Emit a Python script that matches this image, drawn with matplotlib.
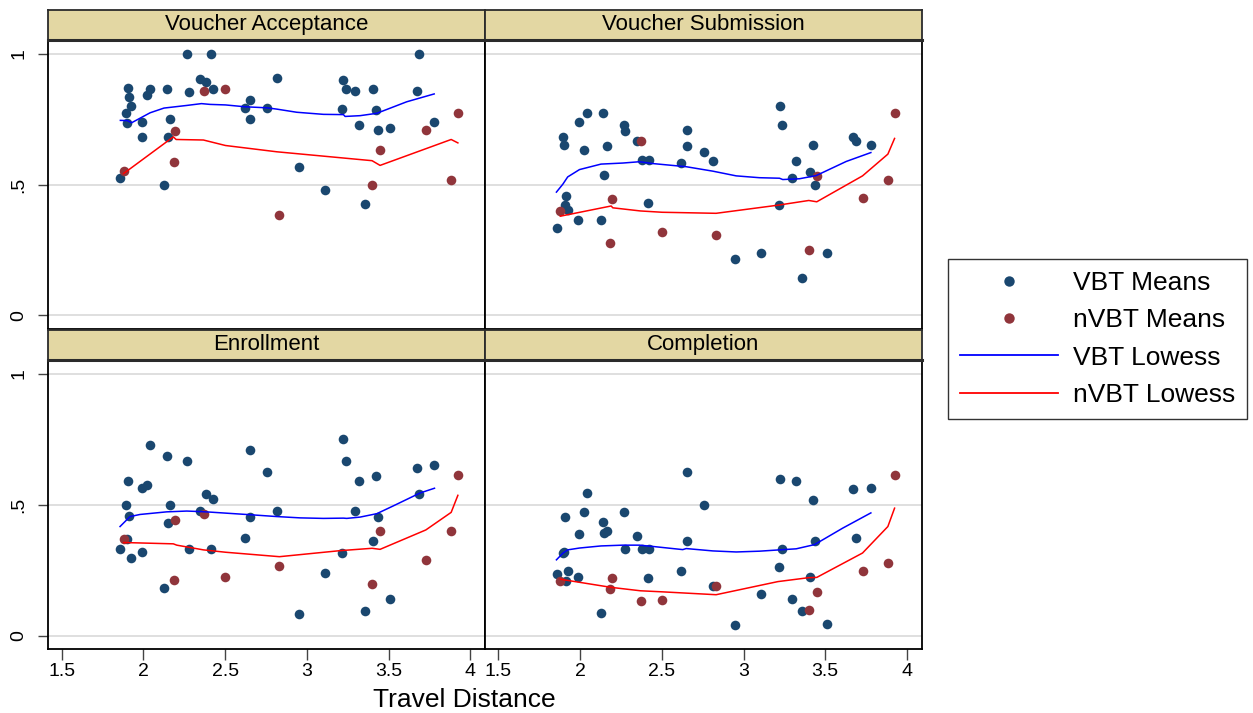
import matplotlib
matplotlib.use("Agg")
import matplotlib.pyplot as plt
from matplotlib.lines import Line2D

plt.rcParams['font.family'] = ['Liberation Sans', 'DejaVu Sans']

# ---------------- data ----------------
panel_titles = ["Voucher Acceptance", "Voucher Submission", "Enrollment", "Completion"]

x_vbt = [1.857, 1.896, 1.902, 1.906, 1.912, 1.926, 1.990, 1.992, 2.024, 2.041,
         2.126, 2.143, 2.149, 2.165, 2.267, 2.277, 2.349, 2.381, 2.416, 2.424,
         2.620, 2.651, 2.655, 2.755, 2.816, 2.950, 3.108, 3.214, 3.222, 3.238,
         3.297, 3.320, 3.356, 3.405, 3.426, 3.436, 3.511, 3.671, 3.685, 3.781]
x_nvbt = [1.879, 2.185, 2.196, 2.371, 2.502, 2.832, 3.399, 3.448, 3.728, 3.883, 3.924]

acc_vbt = [0.523, 0.772, 0.736, 0.869, 0.833, 0.800, 0.681, 0.739, 0.841, 0.864,
           0.500, 0.864, 0.681, 0.750, 1.000, 0.852, 0.904, 0.890, 1.000, 0.864,
           0.791, 0.750, 0.823, 0.791, 0.908, 0.565, 0.478, 0.790, 0.899, 0.864,
           0.857, 0.727, 0.427, 0.864, 0.784, 0.708, 0.714, 0.857, 1.000, 0.739]
acc_nvbt = [0.550, 0.585, 0.703, 0.857, 0.864, 0.384, 0.500, 0.633, 0.709, 0.517, 0.772]

sub_vbt = [0.333, 0.681, 0.652, 0.422, 0.458, 0.402, 0.364, 0.739, 0.630, 0.772,
           0.364, 0.772, 0.536, 0.649, 0.726, 0.703, 0.666, 0.592, 0.429, 0.592,
           0.583, 0.708, 0.647, 0.624, 0.589, 0.217, 0.240, 0.421, 0.798, 0.726,
           0.523, 0.589, 0.142, 0.547, 0.652, 0.500, 0.237, 0.680, 0.666, 0.652]
sub_nvbt = [0.399, 0.276, 0.444, 0.666, 0.318, 0.306, 0.249, 0.533, 0.450, 0.517, 0.772]

enr_vbt = [0.333, 0.500, 0.370, 0.589, 0.458, 0.298, 0.565, 0.318, 0.577, 0.726,
           0.181, 0.686, 0.429, 0.500, 0.666, 0.332, 0.477, 0.541, 0.333, 0.523,
           0.374, 0.708, 0.454, 0.624, 0.476, 0.085, 0.239, 0.315, 0.749, 0.666,
           0.476, 0.589, 0.094, 0.362, 0.608, 0.454, 0.142, 0.639, 0.541, 0.652]
enr_nvbt = [0.369, 0.213, 0.443, 0.466, 0.226, 0.268, 0.198, 0.399, 0.291, 0.399, 0.615]

com_vbt = [0.237, 0.316, 0.318, 0.454, 0.208, 0.249, 0.226, 0.390, 0.473, 0.545,
           0.089, 0.436, 0.392, 0.399, 0.474, 0.332, 0.380, 0.332, 0.221, 0.332,
           0.249, 0.624, 0.362, 0.499, 0.190, 0.042, 0.159, 0.261, 0.599, 0.332,
           0.142, 0.589, 0.094, 0.224, 0.520, 0.362, 0.047, 0.559, 0.374, 0.564]
com_nvbt = [0.209, 0.177, 0.221, 0.133, 0.136, 0.191, 0.098, 0.166, 0.249, 0.279, 0.615]

# lowess curves
acc_low_vbt_x = [1.859, 1.902, 1.928, 2.041, 2.126, 2.265, 2.355, 2.408, 2.502, 2.620,
                 2.755, 2.816, 2.938, 3.101, 3.224, 3.234, 3.326, 3.428, 3.611, 3.779]
acc_low_vbt_y = [0.745, 0.744, 0.736, 0.774, 0.792, 0.802, 0.809, 0.806, 0.804, 0.797,
                 0.793, 0.788, 0.776, 0.768, 0.767, 0.760, 0.763, 0.772, 0.816, 0.846]
acc_low_nvbt_x = [1.879, 2.183, 2.200, 2.367, 2.502, 2.816, 3.399, 3.448, 3.883, 3.924]
acc_low_nvbt_y = [0.542, 0.682, 0.672, 0.670, 0.649, 0.625, 0.591, 0.573, 0.672, 0.659]

sub_low_vbt_x = [1.855, 1.894, 1.924, 1.996, 2.128, 2.261, 2.363, 2.445, 2.649, 2.812,
                 2.955, 3.097, 3.220, 3.240, 3.342, 3.444, 3.628, 3.779]
sub_low_vbt_y = [0.471, 0.501, 0.529, 0.557, 0.578, 0.582, 0.587, 0.580, 0.568, 0.551,
                 0.533, 0.526, 0.524, 0.519, 0.522, 0.534, 0.588, 0.622]
sub_low_nvbt_x = [1.879, 2.190, 2.200, 2.369, 2.502, 2.832, 3.210, 3.399, 3.448, 3.728, 3.883, 3.924]
sub_low_nvbt_y = [0.379, 0.418, 0.411, 0.399, 0.394, 0.390, 0.421, 0.439, 0.434, 0.533, 0.616, 0.676]

enr_low_vbt_x = [1.857, 1.918, 1.979, 2.143, 2.265, 2.347, 2.408, 2.653, 2.816, 2.959,
                 3.101, 3.224, 3.244, 3.326, 3.428, 3.530, 3.693, 3.781]
enr_low_vbt_y = [0.417, 0.455, 0.463, 0.473, 0.476, 0.474, 0.472, 0.462, 0.455, 0.450,
                 0.448, 0.449, 0.448, 0.453, 0.466, 0.496, 0.545, 0.563]
enr_low_nvbt_x = [1.879, 2.183, 2.204, 2.367, 2.502, 2.832, 3.203, 3.399, 3.448, 3.728, 3.883, 3.924]
enr_low_nvbt_y = [0.356, 0.351, 0.346, 0.328, 0.319, 0.302, 0.325, 0.334, 0.330, 0.404, 0.471, 0.536]

com_low_vbt_x = [1.855, 1.894, 1.924, 1.996, 2.128, 2.261, 2.363, 2.445, 2.628, 2.649,
                 2.812, 2.955, 3.097, 3.220, 3.322, 3.434, 3.607, 3.779]
com_low_vbt_y = [0.290, 0.315, 0.328, 0.335, 0.343, 0.346, 0.346, 0.341, 0.329, 0.333,
                 0.324, 0.320, 0.323, 0.328, 0.332, 0.348, 0.411, 0.469]
com_low_nvbt_x = [1.879, 2.190, 2.369, 2.502, 2.832, 3.210, 3.399, 3.448, 3.728, 3.883, 3.924]
com_low_nvbt_y = [0.216, 0.185, 0.172, 0.168, 0.157, 0.207, 0.222, 0.223, 0.316, 0.417, 0.487]

x_ticks = [1.5, 2, 2.5, 3, 3.5, 4]
x_tick_labels = ["1.5", "2", "2.5", "3", "3.5", "4"]
y_ticks = [0, 0.5, 1]
y_tick_labels = ["0", ".5", "1"]
legend_labels = ["VBT Means", "nVBT Means", "VBT Lowess", "nVBT Lowess"]
x_label = "Travel Distance"

panels = [
    (acc_vbt, acc_nvbt, acc_low_vbt_x, acc_low_vbt_y, acc_low_nvbt_x, acc_low_nvbt_y),
    (sub_vbt, sub_nvbt, sub_low_vbt_x, sub_low_vbt_y, sub_low_nvbt_x, sub_low_nvbt_y),
    (enr_vbt, enr_nvbt, enr_low_vbt_x, enr_low_vbt_y, enr_low_nvbt_x, enr_low_nvbt_y),
    (com_vbt, com_nvbt, com_low_vbt_x, com_low_vbt_y, com_low_nvbt_x, com_low_nvbt_y),
]

# ---------------- style ----------------
W, H = 1253, 713
NAVY = "#1a476f"
MAROON = "#90353b"
STRIP = "#e3d7a3"
GRID = "#dcdcdc"

fig = plt.figure(figsize=(W / 100, H / 100), dpi=100)

def fx(px):
    return px / W

def fy(py):
    return 1 - py / H

col_lr = [(48.3, 485.0), (485.0, 921.7)]
row_tb = [(40.0, 328.5), (360.0, 649.0)]
strip_tb = [(10.0, 40.0), (330.0, 360.0)]

for i, (vbt, nvbt, lvx, lvy, lnx, lny) in enumerate(panels):
    r, c = divmod(i, 2)
    l, rr = col_lr[c]
    t, b = row_tb[r]
    ax = fig.add_axes([fx(l), fy(b), fx(rr) - fx(l), fy(t) - fy(b)])
    ax.set_xlim(1.418, 4.09)
    ax.set_ylim(-0.05, 1.052)
    for yv in y_ticks:
        ax.axhline(yv, color=GRID, lw=1.3, zorder=0)
    ax.scatter(x_vbt, vbt, s=48, color=NAVY, zorder=3, linewidths=0)
    ax.scatter(x_nvbt, nvbt, s=48, color=MAROON, zorder=3, linewidths=0)
    ax.plot(lvx, lvy, color="#0000ff", lw=1.1, zorder=4)
    ax.plot(lnx, lny, color="#ff0000", lw=1.1, zorder=4)
    for sp in ax.spines.values():
        sp.set_color("black")
        sp.set_linewidth(1.3)
    ax.set_yticks(y_ticks)
    ax.set_xticks(x_ticks)
    if c == 0:
        ax.set_yticklabels(y_tick_labels, rotation=90, va="center", fontsize=14)
        ax.tick_params(axis="y", length=7, width=1.0, color="#444444", pad=8)
    else:
        ax.tick_params(axis="y", left=False, labelleft=False)
    if r == 1:
        ax.set_xticklabels(x_tick_labels, fontsize=14)
        ax.tick_params(axis="x", length=8, width=1.0, color="#444444", pad=2)
    else:
        ax.tick_params(axis="x", bottom=False, labelbottom=False)

    st, sb = strip_tb[r]
    sax = fig.add_axes([fx(l), fy(sb), fx(rr) - fx(l), fy(st) - fy(sb)])
    sax.set_facecolor(STRIP)
    sax.set_xticks([])
    sax.set_yticks([])
    for sp in sax.spines.values():
        sp.set_color("#2b2b2b")
        sp.set_linewidth(1.3)
    sax.spines["bottom"].set_linewidth(2.2)
    sax.text(0.5, 0.52, panel_titles[i], ha="center", va="center", fontsize=16,
             transform=sax.transAxes)

fig.text(fx(464), fy(700), x_label, ha="center", va="center", fontsize=19)

handles = [
    Line2D([], [], ls="none", marker="o", markersize=7.5, color=NAVY, markeredgewidth=0),
    Line2D([], [], ls="none", marker="o", markersize=7.5, color=MAROON, markeredgewidth=0),
    Line2D([], [], color="#0000ff", lw=1.3),
    Line2D([], [], color="#ff0000", lw=1.3),
]
leg = fig.legend(handles, legend_labels, loc="center left",
                 bbox_to_anchor=(fx(948), fy(339)), fontsize=19,
                 frameon=True, fancybox=False, edgecolor="black",
                 handlelength=3.7, handletextpad=0.6, labelspacing=0.5,
                 borderpad=0.45, borderaxespad=0)
leg.get_frame().set_linewidth(1.0)

fig.savefig("out.png", dpi=100)
